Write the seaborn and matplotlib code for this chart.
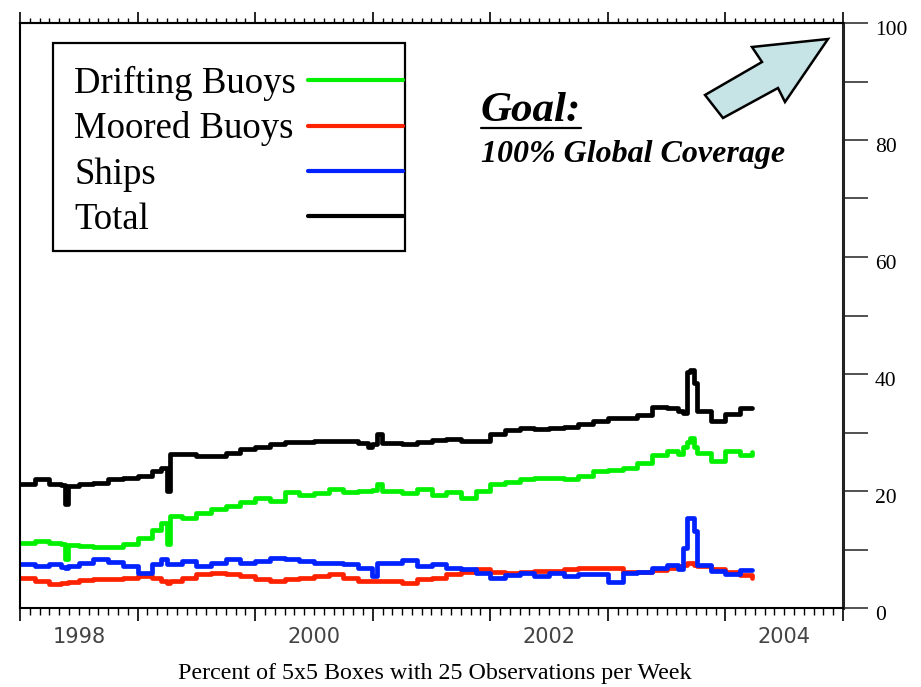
import numpy as np
import pandas as pd
import matplotlib
matplotlib.use("Agg")
import matplotlib.pyplot as plt
import seaborn as sns
from matplotlib.patches import Polygon
from matplotlib.lines import Line2D
from matplotlib.offsetbox import DrawingArea, HPacker
from matplotlib.transforms import ScaledTranslation

# ---------------- data (decimal years, percent) ----------------
years = [1998.000, 1998.125, 1998.250, 1998.350, 1998.380, 1998.410, 1998.500, 1998.625,
         1998.750, 1998.875, 1999.000, 1999.125, 1999.200, 1999.250, 1999.280, 1999.375,
         1999.500, 1999.625, 1999.750, 1999.875, 2000.000, 2000.125, 2000.250, 2000.375,
         2000.500, 2000.625, 2000.750, 2000.875, 2000.960, 2000.990, 2001.040, 2001.080,
         2001.250, 2001.375, 2001.500, 2001.625, 2001.750, 2001.875, 2002.000, 2002.125,
         2002.250, 2002.375, 2002.500, 2002.625, 2002.750, 2002.875, 2003.000, 2003.125,
         2003.250, 2003.375, 2003.500, 2003.600, 2003.640, 2003.670, 2003.700, 2003.730,
         2003.760, 2003.875, 2004.000, 2004.125, 2004.230]

total = [21.2, 22.0, 21.2, 21.0, 17.8, 20.9, 21.2, 21.4,
         22.1, 22.3, 22.6, 23.5, 24.0, 20.0, 26.4, 26.4,
         26.0, 26.0, 26.5, 27.2, 27.6, 28.0, 28.3, 28.3,
         28.5, 28.6, 28.6, 28.2, 27.6, 28.0, 29.8, 28.2,
         28.0, 28.4, 28.7, 28.9, 28.5, 28.6, 29.7, 30.4,
         30.8, 30.6, 30.8, 31.0, 31.5, 32.0, 32.4, 32.5,
         33.0, 34.4, 34.2, 33.6, 33.4, 40.3, 40.6, 38.5,
         33.7, 32.0, 33.2, 34.2, 34.2]

drifting = [11.1, 11.5, 11.1, 11.0, 8.4, 10.8, 10.6, 10.4,
            10.4, 11.0, 12.0, 13.4, 14.6, 11.0, 15.8, 15.4,
            16.2, 17.0, 17.5, 18.2, 18.8, 18.3, 19.8, 19.3,
            19.6, 20.4, 19.8, 20.0, 20.0, 20.2, 21.2, 20.0,
            19.6, 20.4, 19.3, 19.8, 18.8, 20.0, 21.2, 21.6,
            22.0, 22.3, 22.3, 22.1, 22.6, 23.4, 23.6, 24.0,
            24.8, 26.2, 26.8, 26.4, 27.5, 28.3, 29.1, 27.5,
            26.5, 25.2, 26.8, 26.2, 26.7]

ships = [7.5, 7.2, 7.5, 7.0, 6.8, 7.2, 7.7, 8.4,
         7.8, 7.2, 6.0, 7.5, 8.4, 7.5, 7.5, 8.0,
         7.2, 7.7, 8.4, 7.7, 8.0, 8.6, 8.4, 8.0,
         7.7, 7.7, 7.5, 6.8, 6.8, 5.5, 7.7, 7.7,
         8.2, 7.2, 7.5, 6.8, 6.7, 6.0, 5.2, 5.6,
         6.0, 5.5, 6.0, 5.5, 5.8, 5.8, 4.5, 5.9,
         6.2, 6.8, 7.3, 6.7, 10.3, 15.4, 15.4, 13.2,
         7.3, 6.3, 5.8, 6.5, 6.5]

moored = [5.1, 4.6, 4.1, 4.3, 4.3, 4.4, 4.8, 5.0,
          5.0, 5.1, 5.5, 5.1, 4.6, 4.3, 4.6, 5.1,
          5.8, 6.0, 5.8, 5.5, 5.0, 4.6, 5.0, 5.1,
          5.5, 5.8, 5.1, 4.6, 4.6, 4.6, 4.6, 4.6,
          4.3, 5.0, 5.1, 5.8, 6.1, 6.6, 6.2, 6.0,
          6.2, 6.3, 6.4, 6.6, 6.8, 6.8, 6.8, 6.2,
          6.1, 6.5, 6.9, 7.2, 7.4, 7.7, 7.7, 7.4,
          7.2, 6.7, 6.2, 5.6, 5.1]

series_names = ["Drifting Buoys", "Moored Buoys", "Ships", "Total"]
series_colors = ["#00f000", "#ff2200", "#0022ff", "#000000"]
year_ticks = [1998, 1999, 2000, 2001, 2002, 2003, 2004, 2005]
year_label_pos = [1998.5, 2000.5, 2002.5, 2004.5]
year_labels = ["1998", "2000", "2002", "2004"]
y_major = [0, 20, 40, 60, 80, 100]
y_minor = [10, 30, 50, 70, 90]

df = pd.concat([
    pd.DataFrame({"year": years, "value": vals, "series": name})
    for name, vals in zip(series_names, [drifting, moored, ships, total])
], ignore_index=True)

# ---------------- styling ----------------
sns.set_style("white")
plt.rcParams["font.family"] = ["Liberation Serif", "DejaVu Serif"]
plt.rcParams.update({"text.color": "black", "axes.labelcolor": "black",
                     "xtick.color": "black", "ytick.color": "black"})

W, H = 921, 687
fig = plt.figure(figsize=(W / 100, H / 100), dpi=100)
ax = fig.add_axes([20 / W, 1 - 608 / H, 823 / W, 585 / H])

sns.lineplot(data=df, x="year", y="value", hue="series", hue_order=series_names,
             palette=series_colors, drawstyle="steps-post", linewidth=3.4,
             estimator=None, legend=False, ax=ax)

ax.set_xlim(1998, 2005)
ax.set_ylim(0, 100)
ax.set_xlabel("")
ax.set_ylabel("")

for side in ["left", "top", "bottom"]:
    ax.spines[side].set_color("black")
    ax.spines[side].set_linewidth(1.5)
ax.spines["right"].set_color("#222222")
ax.spines["right"].set_linewidth(2.2)

# right y axis
ax.yaxis.tick_right()
ax.set_yticks(y_major)
ax.set_yticks(y_minor, minor=True)
ax.set_yticklabels([str(v) for v in y_major])
ax.tick_params(axis="y", which="both", direction="out", length=18, width=1.1,
               color="#222222", right=True, left=False, labelsize=15.5, pad=5,
               labelcolor="black")
for lbl in ax.get_yticklabels():
    lbl.set_transform(lbl.get_transform() + ScaledTranslation(0, -5 / 100, fig.dpi_scale_trans))

# bottom x ticks
ax.set_xticks(year_ticks)
ax.set_xticklabels([""] * len(year_ticks))
ax.set_xticks(np.arange(1998, 2005.001, 1 / 12), minor=True)
ax.tick_params(axis="x", which="major", direction="out", length=9.4, width=1.2,
               color="black", bottom=True, top=False, labelbottom=False)
ax.tick_params(axis="x", which="minor", direction="out", length=5, width=1.0,
               color="black", bottom=True, top=False)

# top x ticks
top = ax.secondary_xaxis("top")
top.set_xticks(year_ticks)
top.set_xticklabels([""] * len(year_ticks))
top.set_xticks(np.arange(1998, 2005.001, 1 / 12), minor=True)
top.tick_params(axis="x", which="major", direction="out", length=8, width=1.2, color="black")
top.tick_params(axis="x", which="minor", direction="out", length=3.5, width=1.0, color="black")
top.spines["top"].set_linewidth(1.5)

# year labels centred in each year
bot = ax.secondary_xaxis("bottom")
bot.set_xticks(year_label_pos)
bot.set_xticklabels(year_labels)
bot.tick_params(axis="x", which="both", length=0, pad=13.5, labelsize=15, labelcolor="#444444")
bot.xaxis.set_minor_locator(matplotlib.ticker.NullLocator())
for lbl in bot.get_xticklabels():
    lbl.set_fontfamily(["DejaVu Sans"])
bot.spines["bottom"].set_visible(False)

fig.text(435 / W, 1 - 673 / H, "Percent of 5x5 Boxes with 25 Observations per Week",
         ha="center", va="center", fontsize=17.3, color="black")

# ---------------- legend ----------------
handles = ax.get_lines()[:4]
leg = ax.legend(handles, series_names, loc="upper left",
                bbox_to_anchor=((53 - 20) / 823, (608 - 43) / 585), borderaxespad=0,
                markerfirst=False, fontsize=26.5, frameon=True, fancybox=False,
                edgecolor="black", framealpha=1, borderpad=0.06, labelspacing=0.29,
                handlelength=2.58, handletextpad=0.5)
leg.get_frame().set_linewidth(1.6)
for ln in leg.get_lines():
    ln.set_linewidth(3.0)
for t in leg.get_texts():
    t.set_color("black")

for vp in leg._legend_handle_box.get_children():
    items = list(vp.get_children())
    for it in items:
        txt, hbox = it.get_children()
        spacer = DrawingArea(19 * 0.72, 1)
        it._children = [HPacker(pad=0, sep=0, children=[spacer, txt], align="baseline"), hbox]
        it.mode = "expand"
        it.width = 348
    vp._children = [DrawingArea(1, 7.0)] + items + [DrawingArea(1, 1.2)]

# ---------------- goal annotation ----------------
goal = fig.text(481 / W, 1 - 121 / H, "Goal:", fontsize=31, fontweight="bold",
                fontstyle="italic", va="baseline", ha="left", color="black")
fig.text(481 / W, 1 - 162 / H, "100% Global Coverage", fontsize=23, fontweight="bold",
         fontstyle="italic", va="baseline", ha="left", color="black")

arrow_px = [(828, 39), (752, 47), (762, 62), (705, 95), (723, 118), (778, 88), (785, 102)]
arrow = Polygon([(x / W, 1 - y / H) for x, y in arrow_px], closed=True,
                facecolor="#c6e3e6", edgecolor="black", linewidth=1.8,
                transform=fig.transFigure, zorder=5)
fig.add_artist(arrow)

fig.canvas.draw()
bb = goal.get_window_extent(fig.canvas.get_renderer())
uy = 1 - 128 / H
fig.add_artist(Line2D([bb.x0 / W, bb.x1 / W], [uy, uy], color="black", linewidth=1.6,
                      transform=fig.transFigure))

fig.savefig("out.png", dpi=100, facecolor="white")
